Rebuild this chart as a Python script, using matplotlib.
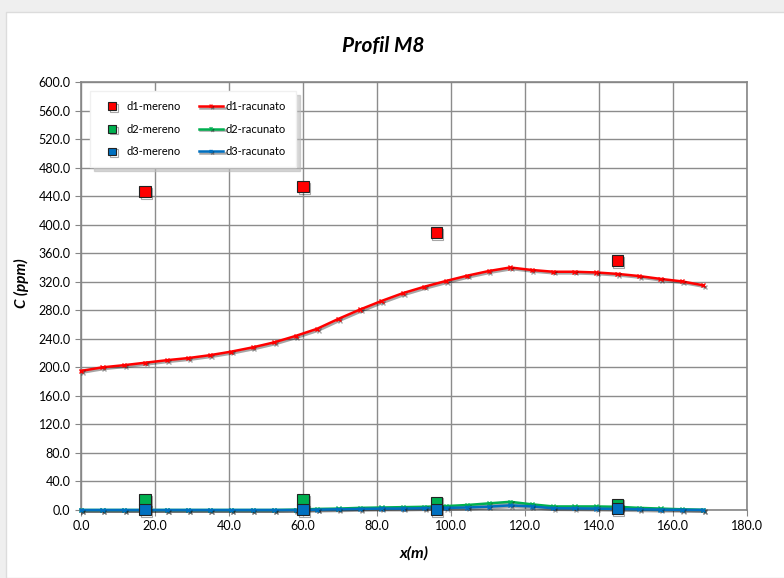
import matplotlib
matplotlib.use("Agg")
import matplotlib.pyplot as plt
import matplotlib.patheffects as pe
from matplotlib.patches import Rectangle

# profile positions (m) for the computed curves
x_calc = [0.0, 5.8, 11.6, 17.4, 23.2, 29.0, 34.8, 40.6, 46.4, 52.2,
          58.0, 63.8, 69.6, 75.4, 81.2, 87.0, 92.8, 98.6, 104.4, 110.2,
          116.0, 121.8, 127.6, 133.4, 139.2, 145.0, 150.8, 156.6, 162.4, 168.2]
d1_calc = [195, 200, 203, 206.5, 210, 213, 217, 222, 228, 235,
           244, 254, 268, 281, 293, 304, 313, 321, 328.5, 335,
           340, 336.5, 334, 334, 333, 331, 328, 324, 320.5, 315]
d2_calc = [0, 0, 0, 0, 0, 0, 0, 0, 0, 0,
           0.5, 1.5, 2, 3, 3.5, 4, 4.5, 5.5, 7, 9.3,
           11.5, 8, 5, 5, 5, 4.5, 3, 2, 1, 0.3]
d3_calc = [0, 0, 0, 0, 0, 0, 0, 0, 0, 0,
           0, 0.5, 1, 1.5, 2, 2, 2.5, 3, 3.5, 4.7,
           6.5, 5, 2.5, 2.3, 2, 1.5, 1, 0.5, 0.3, 0.1]

# measured points
x_meas = [17.3, 60.0, 96.0, 144.9]
d1_meas = [446, 453, 389, 349.5]
d2_meas = [14.5, 14.5, 11, 8]
d3_meas = [0.7, 0.7, 0.3, 1.5]

red, green, blue = "#FF0000", "#00B050", "#0070C0"
shadow = [pe.SimpleLineShadow(offset=(1.2, -1.2), alpha=0.35), pe.Normal()]

plt.rcParams["font.family"] = ["Lato", "DejaVu Sans"]

fig = plt.figure(figsize=(7.84, 5.78), dpi=100, facecolor="#efefef")
fig.patches.append(Rectangle((6 / 784, 0), 1, 1 - 12 / 578, transform=fig.transFigure,
                             facecolor="white", edgecolor="#dcdcdc", lw=1, zorder=-10))
ax = fig.add_axes([81 / 784, 1 - 510 / 578, 666 / 784, 428 / 578], zorder=1)

for xs, ys, c, lab in [(x_calc, d1_calc, red, "d1-racunato"),
                       (x_calc, d2_calc, green, "d2-racunato"),
                       (x_calc, d3_calc, blue, "d3-racunato")]:
    ax.plot(xs, ys, color=c, lw=1.8, marker="x", ms=3, mew=1,
            label=lab, zorder=3, clip_on=False, path_effects=shadow)

for ys, c, lab in [(d1_meas, red, "d1-mereno"), (d2_meas, green, "d2-mereno"),
                   (d3_meas, blue, "d3-mereno")]:
    ax.plot(x_meas, ys, ls="none", marker="s", ms=8, mfc=c, mec="#222222",
            mew=0.8, label=lab, zorder=4, clip_on=False, path_effects=shadow)

ax.set_xlim(0, 180)
ax.set_ylim(0, 600)
ax.set_xticks(range(0, 181, 20))
ax.set_yticks(range(0, 601, 40))
ax.xaxis.set_major_formatter(matplotlib.ticker.FormatStrFormatter("%.1f"))
ax.yaxis.set_major_formatter(matplotlib.ticker.FormatStrFormatter("%.1f"))
ax.tick_params(labelsize=9, direction="out", length=4, color="#868686")
ax.grid(True, color="#8c8c8c", lw=1)
ax.set_axisbelow(True)
for s in ax.spines.values():
    s.set_color("#868686")
    s.set_linewidth(1.2)

fig.text(383 / 784, 1 - 46 / 578, "Profil M8", fontsize=15, fontweight="bold",
         fontstyle="italic", ha="center", va="center")
ax.set_xlabel("x(m)", fontsize=11.5, fontweight="bold", fontstyle="italic")
ax.xaxis.set_label_coords(0.5, -0.085)
ax.set_ylabel("C (ppm)", fontsize=11, fontweight="bold", fontstyle="italic")
ax.yaxis.set_label_coords(-0.078, 0.53)

handles, labels = ax.get_legend_handles_labels()
order = [3, 4, 5, 0, 1, 2]
leg = ax.legend([handles[i] for i in order], [labels[i] for i in order],
                ncol=2, loc="upper left", bbox_to_anchor=(0.0135, 0.979),
                borderaxespad=0, fontsize=8, frameon=True, fancybox=False,
                shadow={"ox": 3, "oy": -3, "color": "#bbbbbb", "alpha": 0.6},
                markerscale=0.7, handlelength=2.2, columnspacing=1.6,
                labelspacing=1.05, borderpad=0.9, handletextpad=0.2)
leg.get_frame().set_edgecolor("#f0f0f0")
leg.set_zorder(5)

fig.savefig("out.png", dpi=100, facecolor=fig.get_facecolor())
